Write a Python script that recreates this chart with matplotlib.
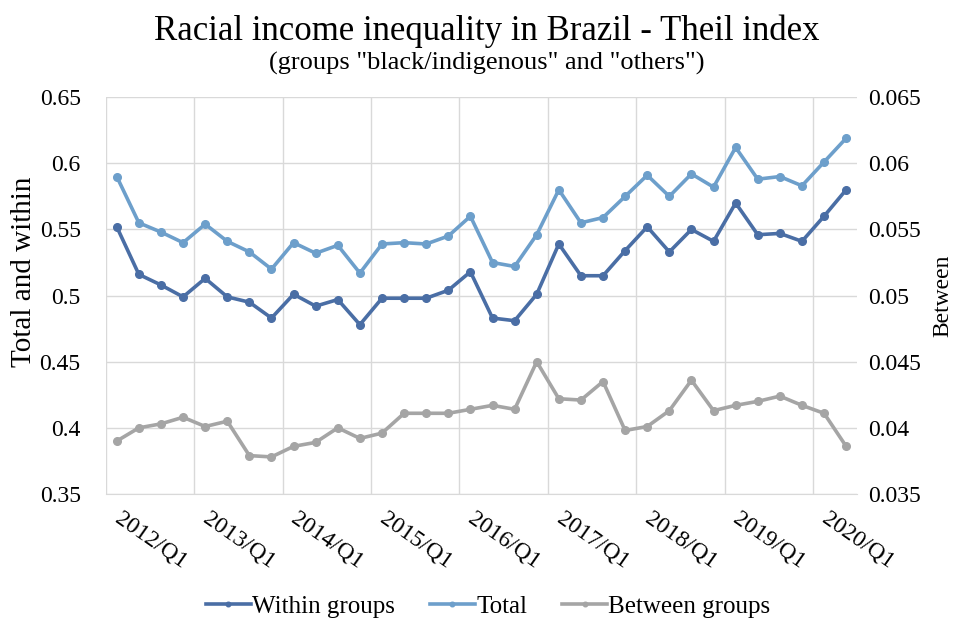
import matplotlib.pyplot as plt
import numpy as np

plt.rcParams['font.family'] = ['Liberation Serif', 'DejaVu Serif']

# quarterly data 2012/Q1 .. 2020/Q2
quarters = [f'{y}/Q{q}' for y in range(2012, 2021) for q in range(1, 5)][:34]

within = [0.552, 0.516, 0.508, 0.499, 0.513, 0.499, 0.495, 0.483, 0.501, 0.492,
          0.497, 0.478, 0.498, 0.498, 0.498, 0.504, 0.518, 0.483, 0.481, 0.501,
          0.539, 0.515, 0.515, 0.534, 0.552, 0.533, 0.550, 0.541, 0.570, 0.546,
          0.547, 0.541, 0.560, 0.580]
total = [0.590, 0.555, 0.548, 0.540, 0.554, 0.541, 0.533, 0.520, 0.540, 0.532,
         0.538, 0.517, 0.539, 0.540, 0.539, 0.545, 0.560, 0.525, 0.522, 0.546,
         0.580, 0.555, 0.559, 0.575, 0.591, 0.575, 0.592, 0.582, 0.612, 0.588,
         0.590, 0.583, 0.601, 0.619]
between = [0.0390, 0.0400, 0.0403, 0.0408, 0.0401, 0.0405, 0.0379, 0.0378, 0.0386, 0.0389,
           0.0400, 0.0392, 0.0396, 0.0411, 0.0411, 0.0411, 0.0414, 0.0417, 0.0414, 0.0450,
           0.0422, 0.0421, 0.0435, 0.0398, 0.0401, 0.0413, 0.0436, 0.0413, 0.0417, 0.0420,
           0.0424, 0.0417, 0.0411, 0.0386]

c_within = '#4a6ea5'
c_total = '#6d9fcb'
c_between = '#a5a5a5'

x = np.arange(len(quarters))

fig = plt.figure(figsize=(9.61, 6.19), dpi=100)
ax = fig.add_axes([0.110, 0.202, 0.782, 0.641])
ax2 = ax.twinx()

kw = dict(lw=2.6, marker='o', ms=5.5)
l1, = ax.plot(x, within, color=c_within, label='Within groups', **kw)
l2, = ax.plot(x, total, color=c_total, label='Total', **kw)
l3, = ax2.plot(x, between, color=c_between, label='Between groups', **kw)

ax.set_ylim(0.35, 0.65)
ax.set_yticks(np.arange(0.35, 0.651, 0.05))
ax.set_yticklabels(['0.35', '0.4', '0.45', '0.5', '0.55', '0.6', '0.65'])
ax2.set_ylim(0.035, 0.065)
ax2.set_yticks(np.arange(0.035, 0.0651, 0.005))
ax2.set_yticklabels(['0.035', '0.04', '0.045', '0.05', '0.055', '0.06', '0.065'])

ax.set_xlim(-0.5, len(quarters) - 0.5)
ax.set_xticks(x[::4])
ax.set_xticklabels(quarters[::4], rotation=-35, ha='left', va='center',
                   rotation_mode='anchor')
ax.tick_params(axis='x', which='both', length=0, pad=16, labelsize=17)
ax.set_xticks(np.arange(-0.5, 32, 4), minor=True)
ax.grid(axis='x', which='minor', color='#d9d9d9', lw=1)
ax.grid(axis='y', which='major', color='#d9d9d9', lw=1)
ax.set_axisbelow(True)
ax.tick_params(axis='y', length=0, labelsize=17, pad=18)
ax2.tick_params(axis='y', length=0, labelsize=17, pad=8)

for a in (ax, ax2):
    for s in a.spines.values():
        s.set_visible(False)
ax.spines['bottom'].set_visible(True)
ax.spines['bottom'].set_color('#d9d9d9')

ax.set_ylabel('Total and within', fontsize=21)
ax.yaxis.set_label_coords(-0.092, 0.56)
ax2.set_ylabel('Between', fontsize=17)
ax2.yaxis.set_label_coords(1.100, 0.5)

fig.text(0.506, 0.935, 'Racial income inequality in Brazil - Theil index',
         ha='center', fontsize=25)
fig.text(0.506, 0.888, '(groups "black/indigenous" and "others")',
         ha='center', fontsize=19)

fig.legend(handles=[l1, l2, l3], loc='lower center', bbox_to_anchor=(0.508, -0.035),
           ncol=3, frameon=False, fontsize=18, handlelength=1.8,
           handletextpad=0.05, columnspacing=1.4, markerscale=0.6)

plt.savefig('out.png', dpi=100)
